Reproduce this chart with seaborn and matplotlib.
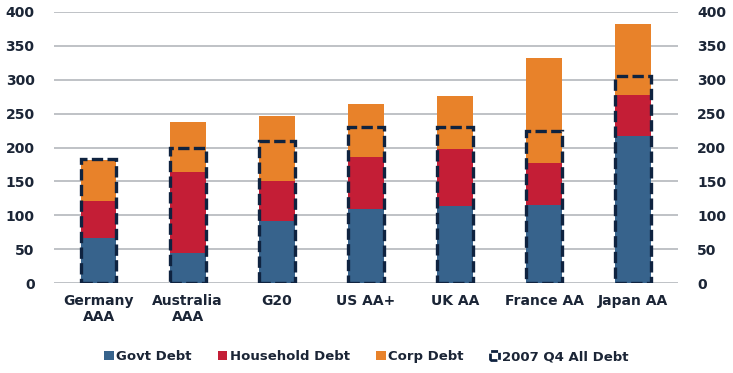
import matplotlib
matplotlib.use("Agg")
import matplotlib.pyplot as plt
import matplotlib.patches as mpatches
import seaborn as sns
import pandas as pd

# values
countries = ['Germany\nAAA', 'Australia\nAAA', 'G20', 'US AA+', 'UK AA', 'France AA', 'Japan AA']
govt_debt = [67, 45, 92, 110, 114, 115, 217]
household_debt = [54, 119, 59, 76, 84, 62, 60]
corp_debt = [60, 74, 95, 78, 78, 155, 105]
all_debt_2007 = [183, 199, 210, 230, 230, 224, 306]

c_govt = '#37638C'
c_house = '#C41E36'
c_corp = '#E8822A'
c_navy = '#0F2340'
c_text = '#1B2536'

df = pd.DataFrame({'Country': countries, 'Govt': govt_debt,
                   'Household': household_debt, 'Corp': corp_debt,
                   'Y2007': all_debt_2007})
df['GovtHouse'] = df['Govt'] + df['Household']
df['Total'] = df['GovtHouse'] + df['Corp']

sns.set_style('white')
plt.rcParams['font.family'] = ['DejaVu Sans']
plt.rcParams['font.weight'] = 'bold'

fig = plt.figure(figsize=(7.33, 3.73), dpi=100)
ax = fig.add_axes([0.0737, 0.241, 0.851, 0.727])

# stacked bars: draw cumulative totals back to front
sns.barplot(data=df, x='Country', y='Total', color=c_corp, width=0.4,
            saturation=1, linewidth=0, ax=ax, zorder=2)
sns.barplot(data=df, x='Country', y='GovtHouse', color=c_house, width=0.4,
            saturation=1, linewidth=0, ax=ax, zorder=2)
sns.barplot(data=df, x='Country', y='Govt', color=c_govt, width=0.4,
            saturation=1, linewidth=0, ax=ax, zorder=2)
# 2007 Q4 outline
sns.barplot(data=df, x='Country', y='Y2007', color=c_navy, width=0.4,
            fill=False, linewidth=2.4, linestyle=(0, (3.4, 1.3)),
            saturation=1, ax=ax, zorder=3)

ax.set_ylim(0, 400)
ax.set_xlim(-0.5, 6.5)
ax.set_yticks(range(0, 401, 50))
ax.yaxis.grid(True, color='#BFC2C6', linewidth=1.4, zorder=0)
ax.set_axisbelow(True)
sns.despine(ax=ax, left=True, bottom=True)
ax.set_xlabel('')
ax.set_ylabel('')
ax.tick_params(axis='both', length=0, labelsize=10, labelcolor=c_text)
ax.tick_params(axis='y', pad=14, labelright=True)
ax.tick_params(axis='x', pad=8)
for lab in ax.get_xticklabels() + ax.get_yticklabels():
    lab.set_fontweight('bold')
for t in ax.yaxis.get_major_ticks():
    t.label2.set_fontweight('bold')
    t.label2.set_color(c_text)
    t.label2.set_fontsize(10)

handles = [
    mpatches.Patch(facecolor=c_govt, edgecolor='none', label='Govt Debt'),
    mpatches.Patch(facecolor=c_house, edgecolor='none', label='Household Debt'),
    mpatches.Patch(facecolor=c_corp, edgecolor='none', label='Corp Debt'),
    mpatches.Patch(facecolor='white', edgecolor=c_navy, linewidth=2,
                   linestyle=(0, (2.5, 1)), label='2007 Q4 All Debt'),
]
leg = fig.legend(handles=handles, loc='center', bbox_to_anchor=(0.5, 0.043),
                 ncol=4, frameon=False, fontsize=9.5, handlelength=0.7,
                 handleheight=0.7, handletextpad=0.2, columnspacing=2.0)
for t in leg.get_texts():
    t.set_color(c_text)
    t.set_fontweight('bold')

fig.savefig('out.png', dpi=100)
